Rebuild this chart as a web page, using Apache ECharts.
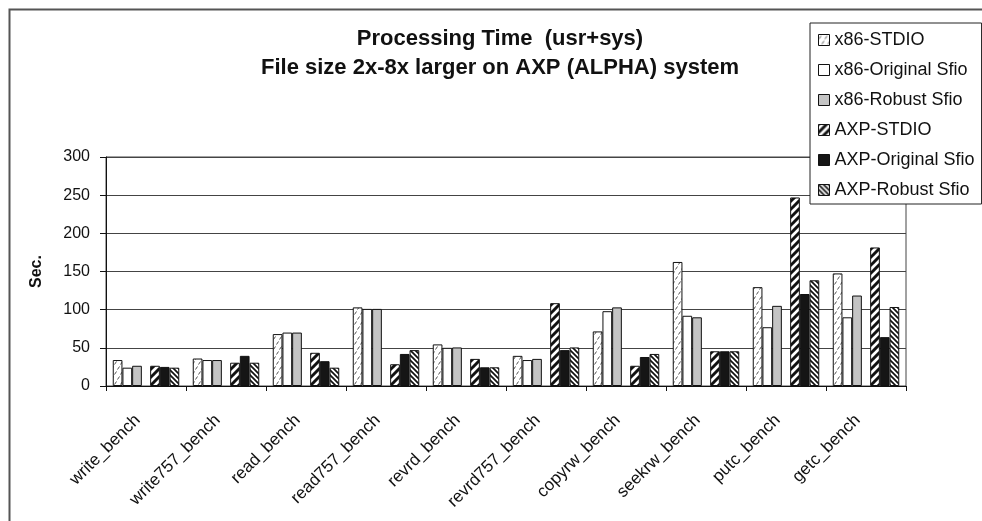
<!DOCTYPE html>
<html>
<head>
<meta charset="utf-8">
<script src="https://cdn.jsdelivr.net/npm/echarts@6/dist/echarts.min.js"></script>
<style>
html,body{margin:0;padding:0;background:#fff;}
#chart{width:982px;height:521px;}
</style>
</head>
<body>
<div id="chart"></div>
<script>
// ---- data ----
const categories = ['write_bench','write757_bench','read_bench','read757_bench','revrd_bench','revrd757_bench','copyrw_bench','seekrw_bench','putc_bench','getc_bench'];
const seriesNames = ['x86-STDIO','x86-Original Sfio','x86-Robust Sfio','AXP-STDIO','AXP-Original Sfio','AXP-Robust Sfio'];
const x86Stdio    = [34, 36, 68, 103, 54.5, 39.5, 71.5, 162.5, 129.5, 147.5];
const x86Original = [24, 34, 70, 101, 50, 34, 98, 92, 77, 90];
const x86Robust   = [26.5, 34, 70, 101, 50.5, 35.5, 103, 90, 105, 118.5];
const axpStdio    = [26.5, 30.5, 43.5, 28.5, 35.5, 108.5, 26.5, 45.5, 247, 181.5];
const axpOriginal = [25, 39.5, 32.5, 42, 24.5, 47, 38, 45.5, 120.5, 64];
const axpRobust   = [24, 30.5, 24, 47, 24.5, 50.5, 42, 45.5, 138.5, 103.5];
const yMin = 0, yMax = 300, yStep = 50;
const titleLines = ['Processing Time  (usr+sys)', 'File size 2x-8x larger on AXP (ALPHA) system'];
const yName = 'Sec.';

// ---- patterns ----
function pattern(w, h, draw) {
  const c = document.createElement('canvas');
  c.width = w; c.height = h;
  const ctx = c.getContext('2d');
  ctx.fillStyle = '#fff';
  ctx.fillRect(0, 0, w, h);
  draw(ctx, w, h);
  return { image: c, repeat: 'repeat' };
}
const patDots = pattern(6, 10, (ctx) => {
  ctx.strokeStyle = '#555'; ctx.lineWidth = 1;
  ctx.beginPath();
  ctx.moveTo(0.5, 4.5); ctx.lineTo(2.5, 1.5);
  ctx.moveTo(3.5, 9.5); ctx.lineTo(5.5, 6.5);
  ctx.stroke();
});
const patWide = pattern(8, 8, (ctx) => {
  ctx.strokeStyle = '#111'; ctx.lineWidth = 3;
  ctx.beginPath();
  [-8, 0, 8].forEach(k => { ctx.moveTo(k - 1, 9); ctx.lineTo(k + 9, -1); });
  ctx.stroke();
});
const patBack = pattern(5, 5, (ctx) => {
  ctx.strokeStyle = '#111'; ctx.lineWidth = 1.7;
  ctx.beginPath();
  [-5, 0, 5].forEach(k => { ctx.moveTo(k - 1, -1); ctx.lineTo(k + 6, 6); });
  ctx.stroke();
});

const fills = [patDots, '#ffffff', '#c4c4c4', patWide, '#151515', patBack];
const valueSets = [x86Stdio, x86Original, x86Robust, axpStdio, axpOriginal, axpRobust];
const BAR_W = 9.7;

function barSeries(i) {
  return {
    name: seriesNames[i],
    type: 'bar',
    data: valueSets[i],
    barWidth: BAR_W,
    barGap: '0%',
    itemStyle: { color: fills[i], borderColor: '#111', borderWidth: 1 },
    emphasis: { disabled: true },
    animation: false
  };
}
const series = [barSeries(0), barSeries(1), barSeries(2),
  { name: 'gap', type: 'bar', data: [], barWidth: 8.3, barGap: '0%', silent: true, animation: false },
  barSeries(3), barSeries(4), barSeries(5)];

const FONT = 'Arial, "Liberation Sans", sans-serif';
const chart = echarts.init(document.getElementById('chart'), null, { renderer: 'canvas' });
chart.setOption({
  animation: false,
  backgroundColor: '#fff',
  title: {
    text: titleLines.join('\n'),
    left: 500, top: 25, textAlign: 'center', padding: 0,
    textStyle: { fontFamily: FONT, fontWeight: 'bold', fontSize: 22, lineHeight: 28.5, color: '#111' }
  },
  legend: {
    data: seriesNames,
    orient: 'vertical',
    left: 810, top: 23,
    padding: [7, 7, 4, 8],
    itemWidth: 11, itemHeight: 11, itemGap: 10,
    icon: 'rect',
    borderColor: '#222', borderWidth: 1, backgroundColor: '#fff',
    textStyle: { fontFamily: FONT, fontSize: 18, lineHeight: 20, color: '#111' },
    itemStyle: { borderColor: '#111', borderWidth: 1 },
    selectedMode: false
  },
  grid: {
    left: 106, right: 76, top: 157, bottom: 135,
    containLabel: false, outerBoundsMode: 'none',
    show: true, borderColor: '#444', borderWidth: 1, backgroundColor: 'transparent'
  },
  xAxis: {
    type: 'category',
    data: categories,
    axisLine: { show: true, lineStyle: { color: '#111', width: 1 } },
    axisTick: { show: true, length: 5, inside: false, lineStyle: { color: '#111' } },
    axisLabel: { rotate: 45, margin: 23, padding: [0, 12, 0, 0], interval: 0, fontFamily: FONT, fontSize: 17, color: '#111' },
    splitLine: { show: false }
  },
  yAxis: {
    type: 'value',
    min: yMin, max: yMax, interval: yStep,
    name: yName, nameLocation: 'middle', nameGap: 61,
    nameTextStyle: { fontFamily: FONT, fontWeight: 'bold', fontSize: 16, color: '#111' },
    axisLine: { show: true, lineStyle: { color: '#111', width: 1 } },
    axisTick: { show: true, length: 6, inside: false, lineStyle: { color: '#111' } },
    axisLabel: { margin: 16, fontFamily: FONT, fontSize: 16, color: '#111' },
    splitLine: { show: true, lineStyle: { color: '#444', width: 1 } }
  },
  graphic: [{
    type: 'rect', left: 7, top: 7, silent: true,
    shape: { width: 1100, height: 700 },
    style: { fill: 'none', stroke: '#555', lineWidth: 2 }
  }],
  series: series
});
</script>
</body>
</html>
